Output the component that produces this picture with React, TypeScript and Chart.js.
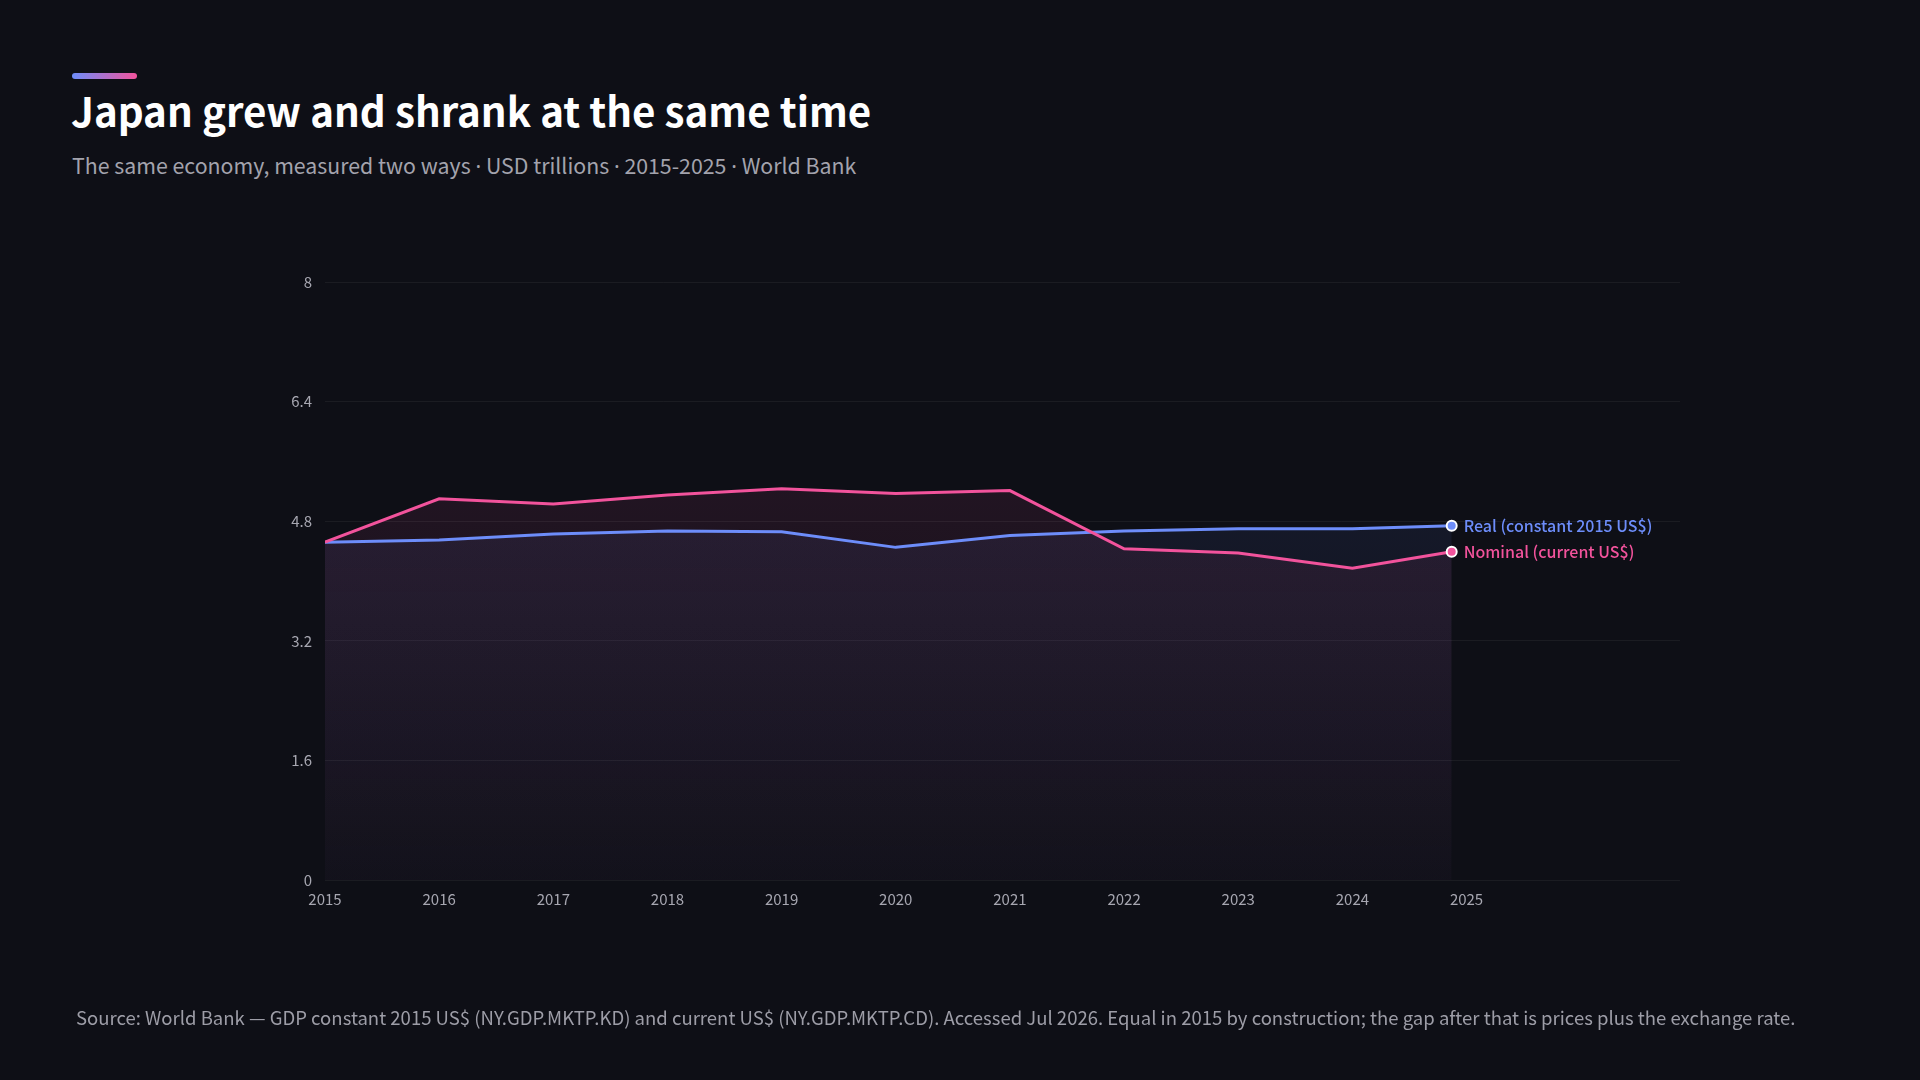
import React, { useEffect, useRef } from "react";
import { Chart, registerables } from "chart.js";

Chart.register(...registerables);

// Japan GDP, USD trillions
const yearPositions = [2015, 2016, 2017, 2018, 2019, 2020, 2021, 2022, 2023, 2024, 2024.87];
const realGdp = [4.52, 4.55, 4.63, 4.67, 4.66, 4.45, 4.61, 4.67, 4.70, 4.70, 4.74];
const nominalGdp = [4.52, 5.1, 5.03, 5.15, 5.235, 5.17, 5.21, 4.43, 4.375, 4.17, 4.39];
const seriesLabels = ["Nominal (current US$)", "Real (constant 2015 US$)"];
const yTicks = [0, 1.6, 3.2, 4.8, 6.4, 8];
const xTickYears = [2015, 2016, 2017, 2018, 2019, 2020, 2021, 2022, 2023, 2024, 2025];
const subtitleParts = ["The same economy, measured two ways", "USD trillions", "2015-2025", "World Bank"];

const BG = "#0e0f16";
const BLUE = "#6d8dfa";
const PINK = "#f2539c";
const FONT = "'Noto Sans CJK KR', 'Noto Sans', sans-serif";

function hexToRgba(hex: string, a: number) {
  const n = parseInt(hex.slice(1), 16);
  return `rgba(${(n >> 16) & 255}, ${(n >> 8) & 255}, ${n & 255}, ${a})`;
}

function areaGradient(color: string) {
  return (ctx: any) => {
    const { chart } = ctx;
    const area = chart.chartArea;
    if (!area) return hexToRgba(color, 0.08);
    const g = chart.ctx.createLinearGradient(0, area.top + 200, 0, area.bottom);
    g.addColorStop(0, hexToRgba(color, 0.09));
    g.addColorStop(1, hexToRgba(color, 0.015));
    return g;
  };
}

const endLabels = {
  id: "endLabels",
  afterDatasetsDraw(chart: any) {
    const ctx = chart.ctx;
    ctx.save();
    ctx.font = `500 16px ${FONT}`;
    ctx.textAlign = "left";
    ctx.textBaseline = "middle";
    chart.data.datasets.forEach((ds: any, i: number) => {
      const meta = chart.getDatasetMeta(i);
      const pt = meta.data[meta.data.length - 1];
      if (!pt) return;
      ctx.fillStyle = ds.borderColor;
      ctx.fillText(ds.label, pt.x + 12, pt.y);
    });
    ctx.restore();
  },
};

function App() {
  const ref = useRef<HTMLCanvasElement>(null);

  useEffect(() => {
    document.body.style.margin = "0";
    document.body.style.background = BG;
    const last = yearPositions.length - 1;
    const toPoints = (vals: number[]) => vals.map((v, i) => ({ x: yearPositions[i], y: v }));
    const pointRadius = (c: any) => (c.dataIndex === last ? 5 : 0);

    const chart = new Chart(ref.current!, {
      type: "line",
      data: {
        datasets: [
          {
            label: seriesLabels[0],
            data: toPoints(nominalGdp),
            borderColor: PINK,
            backgroundColor: areaGradient(PINK),
            borderWidth: 3,
            fill: "origin",
            tension: 0,
            pointRadius,
            pointHoverRadius: pointRadius,
            pointBackgroundColor: PINK,
            pointBorderColor: "#ffffff",
            pointBorderWidth: 2,
          },
          {
            label: seriesLabels[1],
            data: toPoints(realGdp),
            borderColor: BLUE,
            backgroundColor: areaGradient(BLUE),
            borderWidth: 3,
            fill: "origin",
            tension: 0,
            pointRadius,
            pointHoverRadius: pointRadius,
            pointBackgroundColor: BLUE,
            pointBorderColor: "#ffffff",
            pointBorderWidth: 2,
          },
        ],
      },
      options: {
        animation: false,
        responsive: false,
        layout: { padding: { left: 265, right: 240, top: 282, bottom: 160 } },
        plugins: {
          legend: { display: false },
          tooltip: { enabled: false },
          filler: { drawTime: "beforeDatasetsDraw" },
        },
        scales: {
          x: {
            type: "linear",
            min: yearPositions[0],
            max: yearPositions[last] + 2,
            afterFit: (s: any) => { s.height = 40; },
            afterBuildTicks: (s: any) => { s.ticks = xTickYears.map((v) => ({ value: v })); },
            grid: { display: false, drawTicks: false },
            border: { display: false },
            ticks: {
              autoSkip: false,
              maxRotation: 0,
              padding: 10,
              color: "#a7a7b1",
              font: { family: FONT, size: 15 },
              callback: (v: any) => String(v),
            },
          },
          y: {
            min: 0,
            max: 8,
            afterFit: (s: any) => { s.width = 60; },
            afterBuildTicks: (s: any) => { s.ticks = yTicks.map((v) => ({ value: v })); },
            grid: { color: "rgba(255,255,255,0.055)", lineWidth: 1, drawTicks: false },
            border: { display: false },
            ticks: {
              padding: 13,
              color: "#a7a7b1",
              font: { family: FONT, size: 15 },
              callback: (v: any) => String(v),
            },
          },
        },
      },
      plugins: [endLabels],
    });
    return () => chart.destroy();
  }, []);

  const dot = <span style={{ fontFamily: "'Noto Sans', sans-serif" }}>·</span>;

  return (
    <div style={{ position: "relative", width: 1920, height: 1080, background: BG, overflow: "hidden", fontFamily: FONT }}>
      <div
        style={{
          position: "absolute",
          left: 72,
          top: 73,
          width: 65,
          height: 6,
          borderRadius: 3,
          background: `linear-gradient(90deg, ${BLUE}, ${PINK})`,
        }}
      />
      <div
        style={{
          position: "absolute",
          left: 71,
          top: 84,
          color: "#ffffff",
          fontSize: 40.3,
          fontWeight: 700,
          lineHeight: "52px",
          whiteSpace: "nowrap",
        }}
      >
        Japan grew and shrank at the same time
      </div>
      <div
        style={{
          position: "absolute",
          left: 72,
          top: 151,
          color: "#a3a3ad",
          fontSize: 21.3,
          lineHeight: "28px",
          whiteSpace: "nowrap",
        }}
      >
        {subtitleParts.map((p, i) => (
          <React.Fragment key={i}>
            {i > 0 ? <> {dot} </> : null}
            {p}
          </React.Fragment>
        ))}
      </div>
      <canvas ref={ref} width={1920} height={1080} style={{ position: "absolute", left: 0, top: 0 }} />
      <div
        style={{
          position: "absolute",
          left: 76,
          top: 1004,
          color: "#9d9da7",
          fontSize: 18.55,
          lineHeight: "26px",
          whiteSpace: "nowrap",
        }}
      >
        Source: World Bank — GDP constant 2015 US$ (NY.GDP.MKTP.KD) and current US$ (NY.GDP.MKTP.CD). Accessed Jul 2026. Equal in 2015 by construction; the gap after that is prices plus the exchange rate.
      </div>
    </div>
  );
}

export default App;
